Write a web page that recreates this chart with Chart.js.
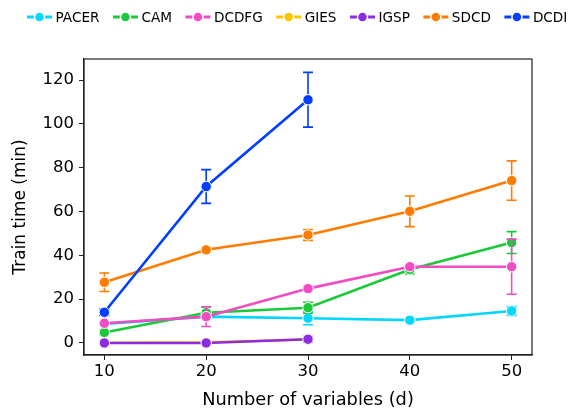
<!DOCTYPE html>
<html>
<head>
<meta charset="utf-8">
<script src="https://cdn.jsdelivr.net/npm/chart.js@4/dist/chart.umd.min.js"></script>
<style>
  html, body { margin: 0; padding: 0; background: #fff; }
  #wrap { width: 570px; height: 409px; }
</style>
</head>
<body>
<div id="wrap"><canvas id="timeChart" width="570" height="409"></canvas></div>
<script>
// Train time per method vs. number of variables
const numVars = [10, 20, 30, 40, 50];
const xTicks = [10, 20, 30, 40, 50];
const yTicks = [0, 20, 40, 60, 80, 100, 120];

const methods = ['PACER', 'CAM', 'DCDFG', 'GIES', 'IGSP', 'SDCD', 'DCDI'];
const colors = ['#00d7ff', '#1ac938', '#f14cc1', '#ffc400', '#8b2be2', '#ff7c00', '#023eff'];

const pacerTime = [8.7, 12.0, 11.3, 10.4, 14.6];
const pacerErr  = [0.5, 1.0, 3.0, 0.8, 2.0];
const camTime   = [4.8, 13.8, 16.1, 33.5, 45.8];
const camErr    = [1.0, 2.5, 2.5, 2.0, 5.0];
const dcdfgTime = [9.0, 12.0, 24.8, 34.8, 34.8];
const dcdfgErr  = [0.5, 4.5, 1.0, 1.0, 12.6];
const giesTime  = [0.1, 0.3, 1.6, null, null];
const giesErr   = [0.1, 0.1, 0.5, null, null];
const igspTime  = [0.0, 0.0, 1.7, null, null];
const igspErr   = [0.1, 0.1, 1.2, null, null];
const sdcdTime  = [27.7, 42.5, 49.3, 60.1, 74.1];
const sdcdErr   = [4.2, 1.0, 2.5, 7.0, 9.0];
const dcdiTime  = [14.0, 71.4, 111.0, null, null];
const dcdiErr   = [1.5, 7.7, 12.5, null, null];

const times = [pacerTime, camTime, dcdfgTime, giesTime, igspTime, sdcdTime, dcdiTime];
const errs  = [pacerErr, camErr, dcdfgErr, giesErr, igspErr, sdcdErr, dcdiErr];

const FONT = '"DejaVu Sans", sans-serif';

const datasets = methods.map((name, i) => ({
  label: name,
  data: numVars.map((x, j) => ({ x: x, y: times[i][j] })).filter(p => p.y !== null),
  err: errs[i],
  borderColor: colors[i],
  backgroundColor: colors[i],
  borderWidth: 2.6,
  pointRadius: 5.2,
  pointBorderColor: '#ffffff',
  pointBorderWidth: 1,
  pointBackgroundColor: colors[i],
  tension: 0,
  // later methods drawn on top
  order: methods.length - i
}));

// error bars, drawn just under each dataset's own line
const errorBars = {
  id: 'errorBars',
  beforeDatasetDraw(chart, args) {
    const ds = chart.data.datasets[args.index];
    const xs = chart.scales.x, ys = chart.scales.y;
    const ctx = chart.ctx;
    ctx.save();
    ctx.strokeStyle = ds.borderColor;
    ctx.lineWidth = 1.6;
    ds.data.forEach((p, j) => {
      const e = ds.err[j];
      if (e == null) return;
      const px = xs.getPixelForValue(p.x);
      const top = ys.getPixelForValue(p.y + e);
      const bot = ys.getPixelForValue(p.y - e);
      ctx.beginPath();
      ctx.moveTo(px, top); ctx.lineTo(px, bot);
      ctx.moveTo(px - 5, top); ctx.lineTo(px + 5, top);
      ctx.moveTo(px - 5, bot); ctx.lineTo(px + 5, bot);
      ctx.stroke();
    });
    ctx.restore();
  }
};

// box around the plot area
const frame = {
  id: 'frame',
  afterDraw(chart) {
    const a = chart.chartArea, ctx = chart.ctx;
    ctx.save();
    ctx.strokeStyle = '#222';
    ctx.lineWidth = 1.2;
    ctx.strokeRect(a.left, a.top, a.right - a.left, a.bottom - a.top);
    ctx.restore();
  }
};

// legend row: line handle with marker, then the name
const handleLegend = {
  id: 'handleLegend',
  afterDraw(chart) {
    const ctx = chart.ctx;
    ctx.save();
    ctx.font = '13.6px ' + FONT;
    ctx.textBaseline = 'middle';
    let x = 27;
    const y = 17;
    chart.data.datasets.forEach(ds => {
      ctx.strokeStyle = ds.borderColor;
      ctx.lineWidth = 3;
      ctx.beginPath();
      ctx.moveTo(x, y); ctx.lineTo(x + 25, y);
      ctx.stroke();
      ctx.beginPath();
      ctx.arc(x + 12.5, y, 5, 0, Math.PI * 2);
      ctx.fillStyle = ds.borderColor;
      ctx.fill();
      ctx.strokeStyle = '#fff';
      ctx.lineWidth = 1.5;
      ctx.stroke();
      ctx.fillStyle = '#000';
      ctx.fillText(ds.label, x + 28.5, y + 1);
      x += 28.5 + ctx.measureText(ds.label).width + 13.5;
    });
    ctx.restore();
  }
};

new Chart(document.getElementById('timeChart'), {
  type: 'line',
  data: { datasets: datasets },
  options: {
    responsive: false,
    animation: false,
    layout: { padding: { top: 59, right: 38, left: 0, bottom: 0 } },
    plugins: { legend: { display: false }, tooltip: { enabled: false } },
    scales: {
      x: {
        type: 'linear',
        min: 8, max: 52,
        afterBuildTicks: s => { s.ticks = xTicks.map(v => ({ value: v })); },
        afterFit: s => { s.height = 54; },
        grid: { display: true, drawOnChartArea: false, drawTicks: true, tickLength: 5, color: '#222' },
        border: { display: true, color: '#222', width: 1.2 },
        ticks: { color: '#000', font: { family: FONT, size: 16.5 }, padding: 2 },
        title: { display: true, text: 'Number of variables (d)', color: '#000',
                 font: { family: FONT, size: 17.8, lineHeight: 1 }, padding: 0 }
      },
      y: {
        type: 'linear',
        min: -5.5, max: 129.6,
        afterBuildTicks: s => { s.ticks = yTicks.map(v => ({ value: v })); },
        afterFit: s => { s.width = 84; },
        grid: { display: true, drawOnChartArea: false, drawTicks: true, tickLength: 5, color: '#222' },
        border: { display: true, color: '#222', width: 1.2 },
        ticks: { color: '#000', font: { family: FONT, size: 16.5 }, padding: 5 },
        title: { display: true, text: 'Train time (min)', color: '#000',
                 font: { family: FONT, size: 17, lineHeight: 1 }, padding: 12 }
      }
    }
  },
  plugins: [errorBars, frame, handleLegend]
});
</script>
</body>
</html>
